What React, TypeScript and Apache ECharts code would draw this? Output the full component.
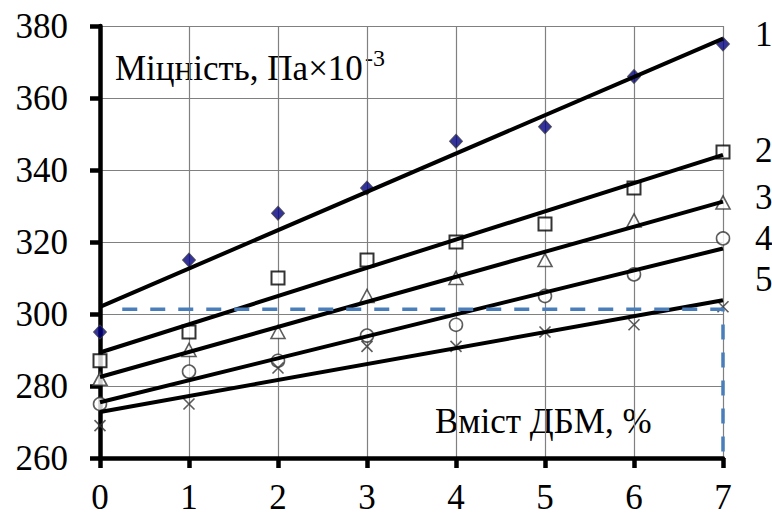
import React, { useEffect, useRef } from "react";
import * as echarts from "echarts";

const xs = [0, 1, 2, 3, 4, 5, 6, 7];
const s1 = [295, 315, 328, 335, 348, 352, 366, 375];
const s2 = [287, 295, 310, 315, 320, 325, 335, 345];
const s3 = [282, 290, 295, 305, 310, 315, 326, 331];
const s4 = [275, 284, 287, 294, 297, 305, 311, 321];
const s5 = [269, 275, 285, 291, 291, 295, 297, 302];

const trendX = [0, 7];
const t1 = [302, 376.5];
const t2 = [289.3, 344.2];
const t3 = [282.5, 331.2];
const t4 = [275.5, 318.2];
const t5 = [272.8, 303.8];

const dashX = [0.25, 7, 7];
const dashY = [301.3, 301.3, 261.5];

const curveLabels = ["1", "2", "3", "4", "5"];
const curveLabelY = [34, 150, 197, 238, 279];

const yTitle = "Міцність, Па×10";
const ySup = "-3";
const xTitle = "Вміст ДБМ, %";

const FONT = "Liberation Serif";
const FS = 35;

const pairs = (x: number[], y: number[]) => x.map((v, i) => [v, y[i]]);

export default function App() {
  const ref = useRef<HTMLDivElement>(null);
  useEffect(() => {
    document.body.style.margin = "0";
    const chart = echarts.init(ref.current!, null, { renderer: "svg" });
    const markerBase = {
      type: "scatter",
      clip: false,
      z: 2,
    };
    const trend = (d: number[]) => ({
      type: "line",
      data: pairs(trendX, d),
      symbol: "none",
      lineStyle: { color: "#000", width: 4 },
      z: 3,
      clip: false,
    });
    const textStyle = { fontFamily: FONT, fontSize: FS, fill: "#000", verticalAlign: "middle", align: "left" };
    chart.setOption({
      animation: false,
      textStyle: { fontFamily: FONT },
      grid: { left: 100, top: 26, right: 49, bottom: 60 },
      xAxis: {
        type: "value",
        min: 0,
        max: 7,
        interval: 1,
        z: 1,
        axisLine: { show: true, onZero: false, lineStyle: { color: "#000", width: 4.5 } },
        axisTick: { show: true, length: 10, lineStyle: { color: "#000", width: 4.5 } },
        axisLabel: { color: "#000", fontFamily: FONT, fontSize: FS, margin: 22, lineHeight: 35 },
        splitLine: { show: true, lineStyle: { color: "#808080", width: 1.2 } },
      },
      yAxis: {
        type: "value",
        min: 260,
        max: 380,
        interval: 20,
        z: 1,
        axisLine: { show: true, onZero: false, lineStyle: { color: "#000", width: 4.5 } },
        axisTick: { show: true, length: 10, lineStyle: { color: "#000", width: 4.5 } },
        axisLabel: { color: "#000", fontFamily: FONT, fontSize: FS, margin: 32 },
        splitLine: { show: true, lineStyle: { color: "#808080", width: 1.2 } },
      },
      graphic: [
        { type: "rect", z: 1, shape: { x: 113, y: 43, width: 318, height: 56 }, style: { fill: "#fff" } },
        { type: "rect", z: 1, shape: { x: 420, y: 397, width: 262, height: 45 }, style: { fill: "#fff" } },
        { type: "text", z: 1, x: 115, y: 68.5, style: { ...textStyle, text: yTitle } },
        { type: "text", z: 1, x: 365, y: 58, style: { ...textStyle, text: ySup, fontSize: 24 } },
        { type: "text", z: 1, x: 435, y: 421.5, style: { ...textStyle, text: xTitle } },
        ...curveLabels.map((t, i) => ({
          type: "text",
          z: 1,
          x: 755,
          y: curveLabelY[i],
          style: { ...textStyle, text: t },
        })),
      ],
      series: [
        {
          ...markerBase,
          data: pairs(xs, s1),
          symbol: "diamond",
          symbolSize: [13, 14],
          itemStyle: { color: "#000080", borderColor: "#404040", borderWidth: 1 },
        },
        {
          ...markerBase,
          data: pairs(xs, s2),
          symbol: "rect",
          symbolSize: [13, 13],
          itemStyle: { color: "#fff", borderColor: "#000", borderWidth: 2 },
        },
        {
          ...markerBase,
          data: pairs(xs, s3),
          symbol: "triangle",
          symbolSize: [14, 13],
          itemStyle: { color: "#fff", borderColor: "#333", borderWidth: 1.6 },
        },
        {
          ...markerBase,
          data: pairs(xs, s4),
          symbol: "circle",
          symbolSize: 13,
          itemStyle: { color: "#fff", borderColor: "#333", borderWidth: 1.6 },
        },
        {
          ...markerBase,
          data: pairs(xs, s5),
          symbol: "path://M0,0L10,10M10,0L0,10",
          symbolSize: 11,
          itemStyle: { color: "none", borderColor: "#333", borderWidth: 1.6 },
        },
        trend(t1),
        trend(t2),
        trend(t3),
        trend(t4),
        trend(t5),
        {
          type: "line",
          data: pairs(dashX, dashY),
          symbol: "none",
          z: 4,
          clip: false,
          lineStyle: { color: "#4a7ebb", width: 3.5, type: [15, 13] },
        },
      ],
    });
    return () => chart.dispose();
  }, []);
  return <div ref={ref} style={{ width: 772, height: 518, position: "absolute", left: 0, top: 0 }} />;
}
